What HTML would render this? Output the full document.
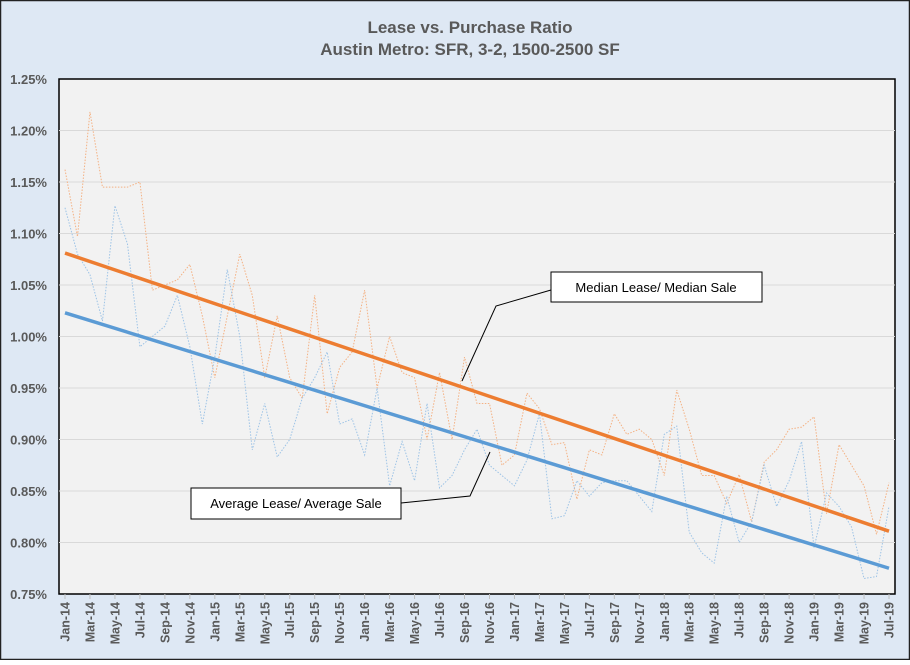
<!DOCTYPE html>
<html><head><style>
body{margin:0;background:#fff}
svg text{font-family:"Liberation Sans",sans-serif}
</style></head><body>
<svg id="s" width="910" height="660" xmlns="http://www.w3.org/2000/svg">
<rect x="0.5" y="0.5" width="909" height="659" fill="#dee8f4" stroke="#222" stroke-width="1.5"/>
<text x="470" y="33" text-anchor="middle" font-size="17" font-weight="bold" fill="#595959">Lease vs. Purchase Ratio</text>
<text x="470" y="55" text-anchor="middle" font-size="17" font-weight="bold" fill="#595959">Austin Metro:  SFR, 3-2, 1500-2500 SF</text>
<rect x="59" y="79" width="836" height="515" fill="#f2f2f2" stroke="#000" stroke-width="1.5"/>
<g id="g"></g>
</svg>
<script>
var s=document.getElementById('g'),h='';
function Y(v){return 79+(1.25-v)/0.5*515}
function X(i){return 65+i*824/66}
for(var k=0;k<=10;k++){var v=0.75+k*0.05,y=Y(v);
 if(k>0&&k<10)h+='<line x1="59" x2="895" y1="'+y+'" y2="'+y+'" stroke="#d9d9d9" stroke-width="1"/>';
 h+='<text x="47" y="'+(y+5)+'" text-anchor="end" font-size="13" font-weight="bold" fill="#595959">'+v.toFixed(2)+'%</text>';}
var m=['Jan','Feb','Mar','Apr','May','Jun','Jul','Aug','Sep','Oct','Nov','Dec'];
for(var i=0;i<67;i++){var x=X(i);
 if(i%2==0){h+='<line x1="'+x+'" x2="'+x+'" y1="594" y2="599" stroke="#bfbfbf"/>';
 h+='<text transform="translate('+(x+4.5)+',602) rotate(-90)" text-anchor="end" font-size="12.5" font-weight="bold" fill="#595959">'+m[i%12]+'-'+(14+Math.floor(i/12))+'</text>';}}
var o=[1.162,1.097,1.218,1.145,1.145,1.145,1.150,1.045,1.05,1.055,1.07,1.02,0.96,1.02,1.08,1.04,0.96,1.02,0.96,0.94,1.04,0.925,0.97,0.985,1.045,0.95,1.0,0.965,0.96,0.90,0.965,0.90,0.98,0.935,0.935,0.875,0.885,0.945,0.93,0.895,0.897,0.842,0.89,0.885,0.925,0.905,0.91,0.90,0.865,0.948,0.91,0.865,0.865,0.838,0.866,0.82,0.878,0.89,0.91,0.912,0.922,0.828,0.895,0.875,0.855,0.808,0.858];
var b=[1.125,1.08,1.06,1.015,1.127,1.09,0.99,1.0,1.01,1.04,0.99,0.915,0.98,1.065,1.0,0.89,0.935,0.883,0.90,0.94,0.96,0.985,0.915,0.92,0.885,0.95,0.855,0.898,0.86,0.935,0.853,0.865,0.89,0.91,0.875,0.865,0.855,0.88,0.925,0.823,0.826,0.86,0.845,0.858,0.86,0.86,0.845,0.83,0.905,0.913,0.81,0.79,0.78,0.845,0.80,0.82,0.875,0.835,0.86,0.898,0.795,0.848,0.835,0.815,0.765,0.767,0.835];
function pl(a,c){return '<polyline fill="none" stroke="'+c+'" stroke-width="1" stroke-dasharray="1.5,1.5" points="'+a.map(function(v,i){return X(i)+','+Y(v)}).join(' ')+'"/>';}
h+=pl(o,'#f4b183')+pl(b,'#9dc3e6');
h+='<line x1="'+X(0)+'" y1="'+Y(1.081)+'" x2="'+X(66)+'" y2="'+Y(0.811)+'" stroke="#ed7d31" stroke-width="3.5"/>';
h+='<line x1="'+X(0)+'" y1="'+Y(1.023)+'" x2="'+X(66)+'" y2="'+Y(0.775)+'" stroke="#5b9bd5" stroke-width="3.5"/>';
h+='<polyline points="551,290 496,306 462,381" fill="none" stroke="#000"/>';
h+='<polyline points="401,503 470,496 490,452" fill="none" stroke="#000"/>';
h+='<rect x="551" y="272" width="211" height="30" fill="#fff" stroke="#000"/><text x="656" y="292" text-anchor="middle" font-size="13" fill="#000">Median Lease/ Median Sale</text>';
h+='<rect x="191" y="488" width="210" height="31" fill="#fff" stroke="#000"/><text x="296" y="508" text-anchor="middle" font-size="13" fill="#000">Average Lease/ Average Sale</text>';
s.innerHTML=h;
</script>
</body></html>
